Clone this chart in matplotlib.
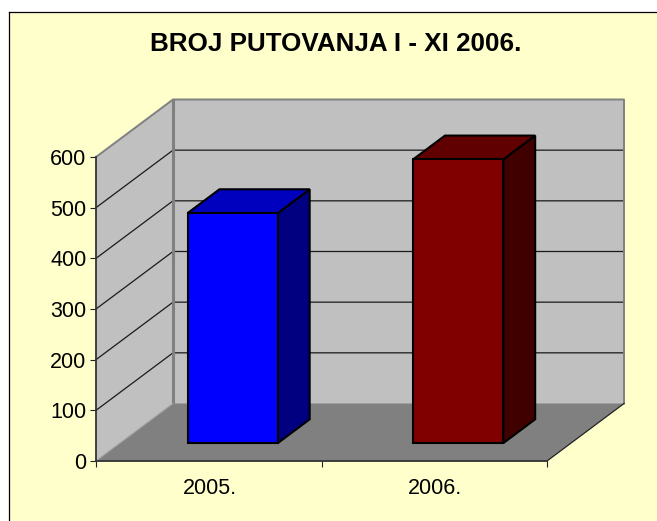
import matplotlib
matplotlib.use("Agg")
import matplotlib.pyplot as plt
from matplotlib.patches import Polygon, Rectangle
from matplotlib.lines import Line2D

### chart data
title = 'BROJ PUTOVANJA I - XI 2006.'
years = ['2005.', '2006.']
trips = [454, 560]
bar_colors = ['#0000FF', '#800000']
top_colors = ['#0000BF', '#600000']
side_colors = ['#000080', '#400000']
value_ticks = [0, 100, 200, 300, 400, 500, 600]

W, H = 657, 521
plt.rcParams['font.family'] = ['Liberation Sans', 'DejaVu Sans']

fig = plt.figure(figsize=(W / 100, H / 100), dpi=100, facecolor='white')

### cream chart area, border only on left and top
fig.add_artist(Rectangle((8.5 / W, 0), 1 - 8.5 / W, 1 - 12 / H, transform=fig.transFigure,
                         facecolor='#FFFFCC', edgecolor='none', zorder=-2))
fig.add_artist(Line2D([8.5 / W, 8.5 / W], [0, 1 - 12 / H], color='black', lw=0.9, zorder=-1))
fig.add_artist(Line2D([8.5 / W, 1], [1 - 12 / H, 1 - 12 / H], color='black', lw=0.9, zorder=-1))

### front plane of the 3d box is the real axes
ax = fig.add_axes([96 / W, 1 - 461 / H, 451 / W, 304 / H])
ax.patch.set_visible(False)
ax.set_xlim(0, len(years))
ax.set_ylim(0, 600)

### oblique depth, in data units
depth_x = 77 / 225.5
depth_y = 57.5 / 304 * 600


def proj(x, y, d):
    return (x + d * depth_x, y + d * depth_y)


def face(points, color, edge='none', lw=0.0, z=1):
    ax.add_patch(Polygon(points, closed=True, facecolor=color, edgecolor=edge,
                         linewidth=lw, clip_on=False, zorder=z, joinstyle='miter'))


ymax = value_ticks[-1]
xmax = len(years)

### walls and floor
face([proj(0, 0, 1), proj(xmax, 0, 1), proj(xmax, ymax, 1), proj(0, ymax, 1)], '#C0C0C0')
face([proj(0, 0, 0), proj(0, 0, 1), proj(0, ymax, 1), proj(0, ymax, 0)], '#C0C0C0')
face([proj(0, 0, 0), proj(xmax, 0, 0), proj(xmax, 0, 1), proj(0, 0, 1)], '#808080')

### gridlines on wall
for v in value_ticks[1:-1]:
    pts = [proj(0, v, 0), proj(0, v, 1), proj(xmax, v, 1)]
    ax.plot([p[0] for p in pts], [p[1] for p in pts], color='#1a1a1a', lw=0.9,
            clip_on=False, zorder=2)

### wall outlines
gray = '#808080'
outline = [proj(0, ymax, 0), proj(0, ymax, 1), proj(xmax, ymax, 1), proj(xmax, 0, 1)]
ax.plot([p[0] for p in outline], [p[1] for p in outline], color=gray, lw=1.4,
        clip_on=False, zorder=2)
ax.plot(*zip(proj(0, ymax, 1), proj(0, 0, 1)), color=gray, lw=2.2, clip_on=False, zorder=2)
ax.plot(*zip(proj(0, 0, 0), proj(0, 0, 1)), color='#a0a0a0', lw=0.8, clip_on=False, zorder=2)
ax.plot(*zip(proj(xmax, 0, 0), proj(xmax, 0, 1)), color='#222222', lw=0.9, clip_on=False, zorder=2)

### bars
bar_width = 0.4
d0 = 0.31
d1 = 0.725
for i, val in enumerate(trips):
    x0 = i + 0.5 - bar_width / 2
    x1 = i + 0.5 + bar_width / 2
    edge = 'black'
    face([proj(x1, 0, d0), proj(x1, 0, d1), proj(x1, val, d1), proj(x1, val, d0)],
         side_colors[i], edge, 1.5, 3)
    face([proj(x0, val, d0), proj(x1, val, d0), proj(x1, val, d1), proj(x0, val, d1)],
         top_colors[i], edge, 1.5, 3)
    face([proj(x0, 0, d0), proj(x1, 0, d0), proj(x1, val, d0), proj(x0, val, d0)],
         bar_colors[i], edge, 1.5, 4)

### axes lines and ticks
for s in ['top', 'right']:
    ax.spines[s].set_visible(False)
for s in ['left', 'bottom']:
    ax.spines[s].set_color('#333333')
    ax.spines[s].set_linewidth(1.3)
    ax.spines[s].set_zorder(5)
ax.set_yticks(value_ticks)
ax.tick_params(axis='y', length=4.3, width=0.8, labelsize=15.5, pad=2.6, color='#222222')
ax.set_xticks(range(xmax + 1))
ax.set_xticklabels([])
ax.tick_params(axis='x', which='major', length=4.3, width=0.8, color='#222222')
ax.set_xticks([i + 0.505 for i in range(xmax)], labels=years, minor=True)
ax.tick_params(axis='x', which='minor', length=0, labelsize=15.5, pad=12.5)

fig.text(336 / W, 1 - 44 / H, title, ha='center', va='center', fontsize=18.7, fontweight='bold')

fig.savefig('out.png', dpi=100)
